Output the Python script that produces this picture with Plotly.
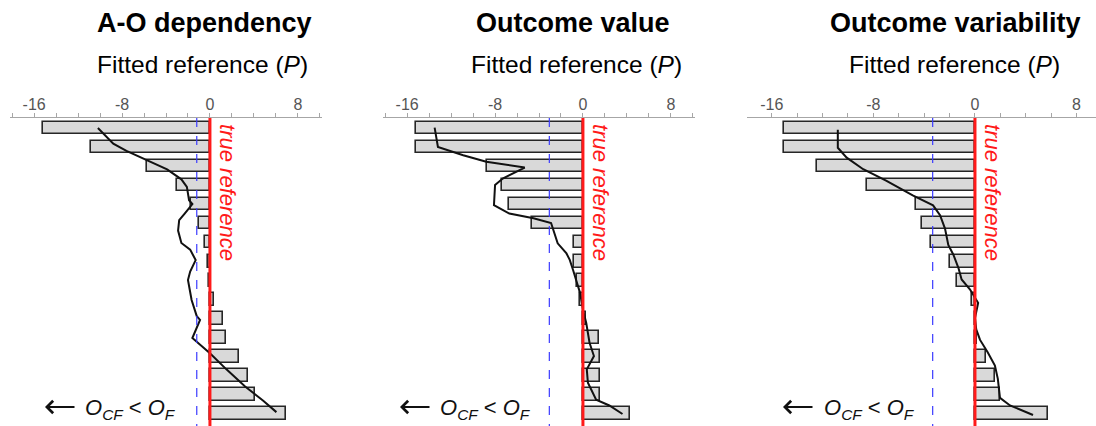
import plotly.graph_objects as go

# ---- data -------------------------------------------------------------
rows = list(range(1, 17))  # bar rows, top to bottom

panel_titles = ["A-O dependency", "Outcome value", "Outcome variability"]
axis_title = "Fitted reference (<i>P</i>)"
tick_values = [-16, -8, 0, 8]
tick_labels = ["-16", "-8", "0", "8"]

ao_bars = [-15.2, -10.85, -5.75, -3.0, -1.7, -1.0, -0.45, -0.15, -0.05,
           0.4, 1.15, 1.42, 2.6, 3.5, 4.1, 6.9]
ao_curve_x = [-10.2, -8.8, -7.6, -5.45, -3.9, -2.6, -2.1, -1.9, -1.6, -2.3,
              -2.8, -2.9, -2.6, -1.8, -1.3, -1.8, -2.0, -1.67, -1.2, -0.9,
              -1.6, 0.0, 1.5, 3.2, 4.85, 6.05]
ao_curve_y = [1.0, 1.82, 2.2, 2.78, 3.18, 3.7, 4.1, 4.8, 5.0, 5.5,
              5.85, 6.4, 7.05, 7.4, 7.95, 8.55, 9.0, 10.05, 10.9, 11.1,
              12.05, 12.85, 13.7, 14.6, 15.35, 15.95]
ao_fit = -1.2

val_bars = [-15.2, -15.2, -8.7, -7.4, -6.7, -4.6, -0.8, -0.8, -0.55,
            -0.3, 0.3, 1.45, 1.55, 1.55, 1.55, 4.25]
val_curve_x = [-13.5, -13.2, -10.9, -8.8, -5.3, -7.3, -8.0, -8.1, -6.7, -4.5,
               -2.9, -2.6, -2.3, -1.5, -1.2, -0.9, -0.6, -0.25, 0.0, 0.3,
               0.6, 1.0, 0.35, 0.45, 1.2, 2.4, 3.6]
val_curve_y = [0.98, 2.0, 2.43, 2.78, 3.08, 3.66, 4.0, 5.06, 5.5, 5.75,
               6.0, 6.55, 7.07, 7.6, 7.94, 8.47, 9.0, 9.7, 10.56, 11.26,
               12.3, 13.0, 13.7, 14.4, 15.3, 15.6, 16.05]
val_fit = -3.06

var_bars = [-15.0, -15.0, -12.4, -8.5, -4.65, -4.2, -3.5, -1.97, -1.4,
            -0.26, 0.05, 0.15, 0.85, 1.6, 2.0, 5.77]
var_curve_x = [-10.8, -10.8, -10.1, -8.8, -7.0, -4.9, -3.3, -2.75, -2.36,
               -2.1, -1.7, -1.3, -1.05, -0.4, 0.25, 0.0, 0.1, 0.4, 1.0,
               1.57, 1.8, 1.97, 2.76, 4.57]
var_curve_y = [1.09, 2.04, 2.56, 3.17, 3.77, 4.55, 5.07, 5.59, 6.29,
               7.15, 7.67, 8.37, 8.97, 9.49, 10.2, 11.0, 11.6, 12.15, 12.8,
               13.5, 14.2, 15.2, 15.6, 16.1]
var_fit = -3.33

panels = [
    (ao_bars, ao_curve_x, ao_curve_y, ao_fit),
    (val_bars, val_curve_x, val_curve_y, val_fit),
    (var_bars, var_curve_x, var_curve_y, var_fit),
]

# ---- layout geometry (pixels of a 1096 x 426 canvas) -------------------
W, H = 1096, 426
FONT = "Liberation Sans, Arial, Helvetica, sans-serif"
x_domains = [(10, 322), (383, 695), (747, 1096)]
x_ranges = [(-18.2, 10.2), (-18.2, 10.2), (-17.95, 9.53)]
axis_top = 118
y_range = (16.68, 0.474)
title_centers = [(204, 202), (573, 576), (955, 954)]
note_left = [(45, 83), (400, 438), (783, 822)]


def px(x):
    return x / W


def py(y):
    return 1 - y / H


fig = go.Figure()
annotations = []
shapes = []

for i, (bars, cx, cy, fit) in enumerate(panels):
    n = "" if i == 0 else str(i + 1)
    xa, ya = "x" + n, "y" + n

    fig.add_trace(go.Bar(
        x=bars, y=rows, orientation="h", width=0.68,
        marker=dict(color="#d9d9d9", line=dict(color="#262626", width=1.6)),
        xaxis=xa, yaxis=ya, showlegend=False, hoverinfo="skip",
    ))
    fig.add_trace(go.Scatter(
        x=cx, y=cy, mode="lines",
        line=dict(color="#111111", width=2),
        xaxis=xa, yaxis=ya, showlegend=False, hoverinfo="skip",
    ))

    # fitted reference (blue dashed) and true reference (red)
    shapes.append(dict(type="line", xref=xa, yref=ya, x0=fit, x1=fit,
                       y0=y_range[1], y1=y_range[0],
                       line=dict(color="#3b3bff", width=1.2, dash="dash")))
    shapes.append(dict(type="line", xref=xa, yref=ya, x0=0, x1=0,
                       y0=y_range[1], y1=y_range[0],
                       line=dict(color="#ff1a1a", width=3)))

    d0, d1 = x_domains[i]
    fig.update_layout(**{
        "xaxis" + n: dict(
            domain=[px(d0), min(px(d1), 1.0)], range=list(x_ranges[i]),
            side="top", anchor=ya, showline=True, linecolor="#a6a6a6",
            linewidth=1, ticks="outside", ticklen=4, tickcolor="#a6a6a6",
            tickvals=tick_values, ticktext=tick_labels,
            tickfont=dict(family=FONT, size=16, color="#555555"),
            ticklabelstandoff=-3,
            minor=dict(dtick=2, tick0=0, ticks="outside", ticklen=4,
                       tickcolor="#a6a6a6", showgrid=False),
            showgrid=False, zeroline=False, fixedrange=True,
        ),
        "yaxis" + n: dict(
            domain=[0, py(axis_top)], range=list(y_range), anchor=xa,
            visible=False, showgrid=False, zeroline=False, fixedrange=True,
        ),
    })

    tx, sx = title_centers[i]
    annotations.append(dict(
        xref="paper", yref="paper", x=px(tx), y=py(23),
        text="<b>" + panel_titles[i] + "</b>", showarrow=False,
        xanchor="center", yanchor="middle",
        font=dict(family=FONT, size=27, color="#000000")))
    annotations.append(dict(
        xref="paper", yref="paper", x=px(sx), y=py(65),
        text=axis_title, showarrow=False,
        xanchor="center", yanchor="middle",
        font=dict(family=FONT, size=24.5, color="#000000")))

    annotations.append(dict(
        xref=xa, yref=ya, x=0, y=4.42, xshift=17,
        text="<i>true reference</i>", textangle=90, showarrow=False,
        xanchor="center", yanchor="middle",
        font=dict(family=FONT, size=22, color="#ff1a1a")))

    head, txt = note_left[i]
    annotations.append(dict(
        xref="paper", yref="paper", x=px(head), y=py(407),
        ax=31, ay=0, text="", showarrow=True, arrowhead=4,
        arrowsize=1.2, arrowwidth=2, arrowcolor="#111111"))
    annotations.append(dict(
        xref="paper", yref="paper", x=px(txt), y=py(409),
        text="<i>O</i><sub><i>CF</i></sub> &lt; <i>O</i><sub><i>F</i></sub>",
        showarrow=False, xanchor="left", yanchor="middle",
        font=dict(family=FONT, size=22, color="#111111")))

fig.update_layout(
    width=W, height=H, margin=dict(l=0, r=0, t=0, b=0),
    paper_bgcolor="white", plot_bgcolor="white",
    bargap=0, annotations=annotations, shapes=shapes,
)

fig.write_html("out.html")
